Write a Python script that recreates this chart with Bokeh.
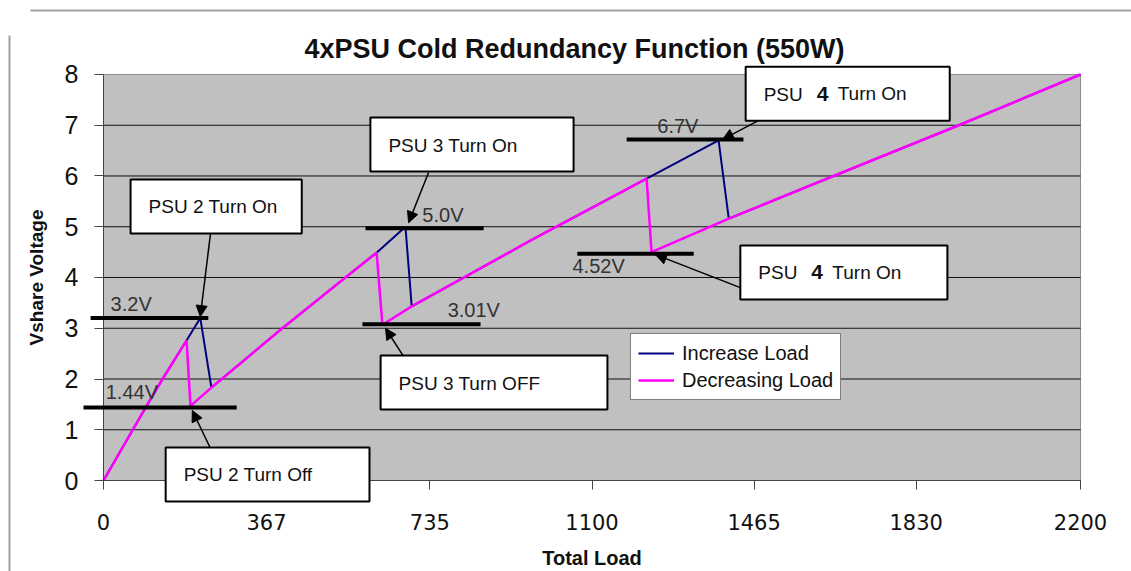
from bokeh.plotting import figure
from bokeh.models import Range1d, FixedTicker, Label, Arrow, NormalHead
from bokeh.embed import file_html
from bokeh.resources import INLINE

# ---------------- data ----------------
inc_load = [0, 95, 133, 187, 218, 243, 400, 556, 615, 680, 694, 960, 1223, 1385, 1408, 1644, 1926, 2200]
inc_vshare = [0, 1.44, 2.0, 2.76, 3.2, 1.83, 2.98, 4.08, 4.49, 5.0, 3.43, 4.72, 5.95, 6.7, 5.16, 6.0, 7.0, 8.0]
dec_load = [0, 95, 133, 187, 196, 243, 400, 556, 615, 628, 694, 960, 1223, 1234, 1408, 1644, 1926, 2200]
dec_vshare = [0, 1.44, 2.0, 2.76, 1.47, 1.83, 2.98, 4.08, 4.49, 3.07, 3.43, 4.72, 5.95, 4.5, 5.16, 6.0, 7.0, 8.0]
x_ticks = [0, 367, 735, 1100, 1465, 1830, 2200]
y_ticks = [0, 1, 2, 3, 4, 5, 6, 7, 8]

# threshold bars: level, start load, end load
bar_level = [3.2, 1.44, 4.97, 3.08, 6.72, 4.47]
bar_start = [-29, -45, 590, 583, 1178, 1067]
bar_end = [236, 300, 856, 849, 1441, 1329]

# threshold value texts
val_text = ["3.2V", "1.44V", "5.0V", "3.01V", "6.7V", "4.52V"]
val_x = [16, 5, 718, 775, 1247, 1056]
val_y = [3.27, 1.52, 5.02, 3.15, 6.76, 4.0]

# callouts: text, box-left load, box-middle volts, right padding, arrow from/to
call_text = ["PSU 2 Turn On", "PSU 3 Turn On", "PSU", "PSU", "PSU 3 Turn OFF", "PSU 2 Turn Off"]
call_x = [61, 601, 1446, 1434, 624, 140]
call_y = [5.40, 6.62, 7.62, 4.10, 1.93, 0.12]
call_rpad = [24, 56, 147, 150, 67, 57]
arr_x0 = [241, 732, 1479, 1434, 676, 241]
arr_y0 = [4.87, 6.07, 7.11, 3.80, 2.44, 0.63]
arr_x1 = [218, 687, 1394, 1243, 635, 200]
arr_y1 = [3.23, 5.08, 6.72, 4.45, 3.0, 1.38]

FONT = "Liberation Sans"
W, H = 1131, 571

# ranges chosen so that the plot area (0..2200, 0..8) sits where the reference has it
p = figure(width=W, height=H,
           x_range=Range1d(-231.9, 2314.8), y_range=Range1d(-1.793, 9.458),
           output_backend="svg", toolbar_location=None, min_border=0)

p.background_fill_color = "white"
p.border_fill_color = "white"
p.outline_line_color = None
p.xgrid.visible = False
p.ygrid.visible = False

# plot area
p.quad(left=[x_ticks[0]], right=[x_ticks[-1]], bottom=[y_ticks[0]], top=[y_ticks[-1]],
       fill_color="#C0C0C0", line_color="#8a8a8a", line_width=1)
# horizontal grid lines
p.segment(x0=[x_ticks[0]] * (len(y_ticks) - 2), x1=[x_ticks[-1]] * (len(y_ticks) - 2),
          y0=y_ticks[1:-1], y1=y_ticks[1:-1], line_color="#111111", line_width=1)

# axes placed at the origin
p.xaxis.fixed_location = 0
p.yaxis.fixed_location = 0
p.xaxis.bounds = (x_ticks[0], x_ticks[-1])
p.yaxis.bounds = (y_ticks[0], y_ticks[-1])
p.xaxis.ticker = FixedTicker(ticks=x_ticks)
p.yaxis.ticker = FixedTicker(ticks=y_ticks)
for ax in (p.xaxis[0], p.yaxis[0]):
    ax.major_tick_out = 9
    ax.major_tick_in = 0
    ax.minor_tick_line_color = None
    ax.axis_line_color = "#444444"
    ax.major_tick_line_color = "#444444"
    ax.major_label_text_color = "#111111"
    ax.axis_label_text_color = "#111111"
    ax.axis_label_text_font_style = "bold"
    ax.axis_label_text_font = FONT

p.xaxis.axis_label = "Total Load"
p.xaxis.axis_label_text_font_size = "20px"
p.xaxis.major_label_text_font = "DejaVu Sans"
p.xaxis.major_label_text_font_size = "21px"
p.xaxis.major_label_standoff = 24
p.xaxis.axis_label_standoff = 14

p.yaxis.axis_label = "Vshare Voltage"
p.yaxis.axis_label_text_font_size = "19px"
p.yaxis.major_label_text_font = FONT
p.yaxis.major_label_text_font_size = "25px"
p.yaxis.major_label_standoff = 16
p.yaxis.axis_label_standoff = 15

# title
p.add_layout(Label(x=574, y=H - 48, x_units="screen", y_units="screen",
                   text="4xPSU Cold Redundancy Function (550W)", text_font=FONT,
                   text_font_size="27px", text_font_style="bold", text_color="#111111",
                   text_align="center", text_baseline="alphabetic"))

p.line(inc_load, inc_vshare, line_color="#000080", line_width=2, legend_label="Increase Load")
p.line(dec_load, dec_vshare, line_color="#FF00FF", line_width=2.5, legend_label="Decreasing Load")

lg = p.legend[0]
lg.location = (630, H - 400)
lg.background_fill_color = "white"
lg.background_fill_alpha = 1
lg.border_line_color = "black"
lg.border_line_width = 1
lg.label_text_font = FONT
lg.label_text_font_size = "20px"
lg.label_text_color = "#111111"
lg.glyph_width = 36
lg.glyph_height = 24
lg.label_height = 24
lg.label_standoff = 8
lg.spacing = 3
lg.padding = 7
lg.margin = 0

# threshold bars
for lv, s, e in zip(bar_level, bar_start, bar_end):
    p.add_layout(Arrow(end=None, x_start=s, y_start=lv, x_end=e, y_end=lv,
                       line_color="black", line_width=4))

# value texts
for t, x, y in zip(val_text, val_x, val_y):
    p.add_layout(Label(x=x, y=y, text=t, text_font=FONT, text_font_size="20px",
                       text_color="#333333", text_align="left", text_baseline="bottom"))

# callout arrows
for x0, y0, x1, y1 in zip(arr_x0, arr_y0, arr_x1, arr_y1):
    p.add_layout(Arrow(end=NormalHead(size=11, fill_color="black", line_color="black"),
                       x_start=x0, y_start=y0, x_end=x1, y_end=y1,
                       line_color="black", line_width=1.5))

# callout boxes
for t, x, y, rp in zip(call_text, call_x, call_y, call_rpad):
    p.add_layout(Label(x=x, y=y, text=t, text_font=FONT, text_font_size="19px",
                       text_color="#111111", text_align="left", text_baseline="middle",
                       background_fill_color="white", background_fill_alpha=1,
                       border_line_color="black", border_line_width=2,
                       padding=dict(left=18, right=rp, top=17, bottom=16)))

# bold "4" and the rest for the two PSU 4 callouts
for i in (2, 3):
    p.add_layout(Label(x=call_x[i], y=call_y[i], x_offset=71, text="4", text_font=FONT,
                       text_font_size="21px", text_font_style="bold", text_color="#111111",
                       text_align="left", text_baseline="middle"))
    p.add_layout(Label(x=call_x[i], y=call_y[i], x_offset=92, text="Turn On", text_font=FONT,
                       text_font_size="19px", text_color="#111111",
                       text_align="left", text_baseline="middle"))

# page decoration lines (screen units)
p.add_layout(Arrow(end=None, x_start=30, y_start=H - 10, x_end=W, y_end=H - 10,
                   start_units="screen", end_units="screen", line_color="#a0a0a0", line_width=2))
p.add_layout(Arrow(end=None, x_start=9, y_start=H - 35, x_end=9, y_end=0,
                   start_units="screen", end_units="screen", line_color="#a0a0a0", line_width=2))

open("out.html", "w").write(file_html(p, INLINE))
